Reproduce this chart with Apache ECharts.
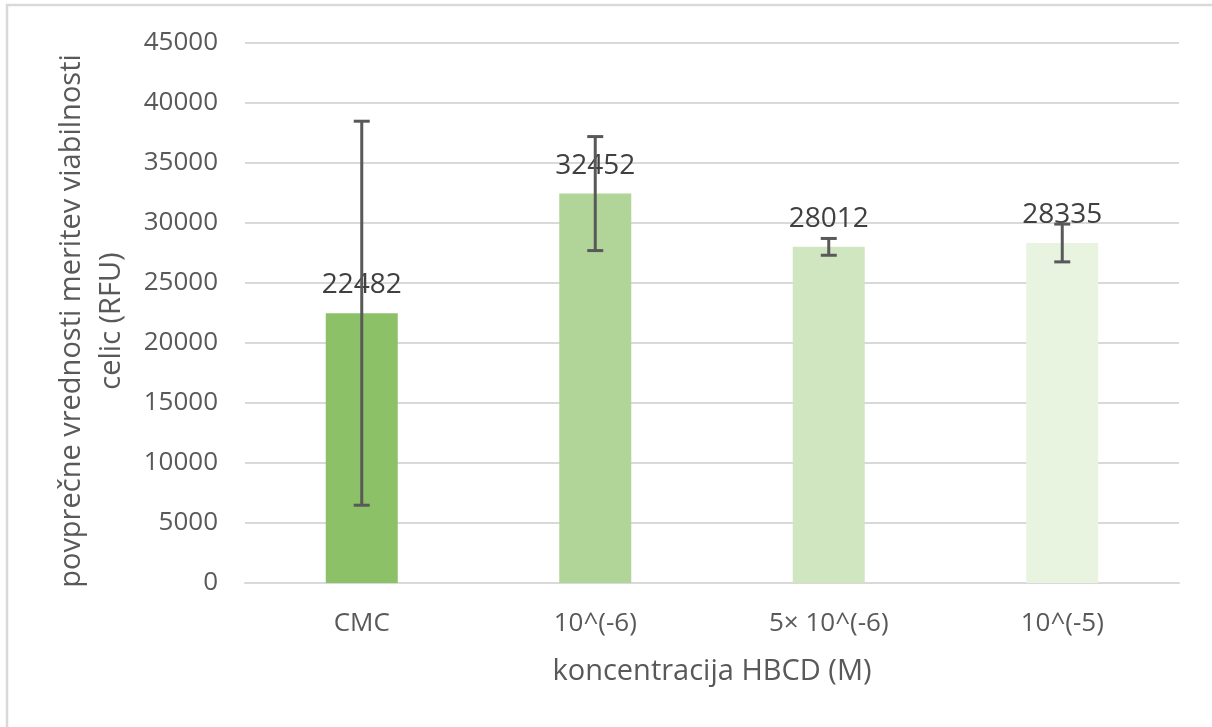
<!DOCTYPE html>
<html>
<head>
<meta charset="utf-8">
<script src="https://cdn.jsdelivr.net/npm/echarts@6/dist/echarts.min.js"></script>
<style>html,body{margin:0;padding:0;background:#fff;}#c{width:1212px;height:727px;}</style>
</head>
<body>
<div id="c"></div>
<script>
const categories = ['CMC', '10^(-6)', '5× 10^(-6)', '10^(-5)'];
const values = [22482, 32452, 28012, 28335];
const errors = [16000, 4750, 700, 1575];
const barColors = ['#8cc168', '#b1d598', '#d0e6c1', '#e8f3e0'];
const yTicks = { min: 0, max: 45000, interval: 5000 };
const yTitle = 'povprečne vrednosti meritev viabilnosti\ncelic (RFU)';
const xTitle = 'koncentracija HBCD (M)';

const FONT = 'Open Sans';
const chart = echarts.init(document.getElementById('c'));
chart.setOption({
  animation: false,
  backgroundColor: '#fff',
  textStyle: { fontFamily: FONT },
  graphic: [
    { type: 'rect', shape: { x: 7, y: 5, width: 1230, height: 760 }, style: { fill: 'none', stroke: '#d9d9d9', lineWidth: 2.5 }, silent: true }
  ],
  grid: { left: 245, right: 33, top: 43, bottom: 144, containLabel: false },
  xAxis: {
    type: 'category',
    data: categories,
    axisLine: { lineStyle: { color: '#d9d9d9', width: 2 } },
    axisTick: { show: false },
    axisLabel: { color: '#595959', fontSize: 26, margin: 28, fontFamily: FONT },
    name: xTitle,
    nameLocation: 'middle',
    nameGap: 74,
    nameTextStyle: { color: '#595959', fontSize: 29, fontFamily: FONT }
  },
  yAxis: {
    type: 'value',
    min: yTicks.min, max: yTicks.max, interval: yTicks.interval,
    axisLine: { show: false },
    axisTick: { show: false },
    splitLine: { lineStyle: { color: '#d9d9d9', width: 2 } },
    axisLabel: { color: '#595959', fontSize: 26, margin: 27, fontFamily: FONT, formatter: v => String(v) },
    name: yTitle,
    nameLocation: 'middle',
    nameGap: 113,
    nameRotate: 90,
    nameTextStyle: { color: '#595959', fontSize: 29, lineHeight: 40, align: 'center', fontFamily: FONT, padding: [0, 16, 0, 0] }
  },
  series: [
    {
      type: 'bar',
      data: values.map((v, i) => ({ value: v, itemStyle: { color: barColors[i] } })),
      barWidth: 72,
      label: { show: true, position: 'top', distance: 14, color: '#404040', fontSize: 28, fontFamily: FONT },
      z: 2
    },
    {
      type: 'custom',
      data: values.map((v, i) => [i, v - errors[i], v + errors[i]]),
      z: 5,
      renderItem: function (params, api) {
        const x = api.value(0);
        const lo = api.coord([x, api.value(1)]);
        const hi = api.coord([x, api.value(2)]);
        const hw = 8;
        const st = { stroke: '#595959', lineWidth: 3 };
        return {
          type: 'group',
          children: [
            { type: 'line', shape: { x1: hi[0], y1: hi[1], x2: lo[0], y2: lo[1] }, style: st },
            { type: 'line', shape: { x1: hi[0] - hw, y1: hi[1], x2: hi[0] + hw, y2: hi[1] }, style: st },
            { type: 'line', shape: { x1: lo[0] - hw, y1: lo[1], x2: lo[0] + hw, y2: lo[1] }, style: st }
          ]
        };
      }
    }
  ]
});
</script>
</body>
</html>
